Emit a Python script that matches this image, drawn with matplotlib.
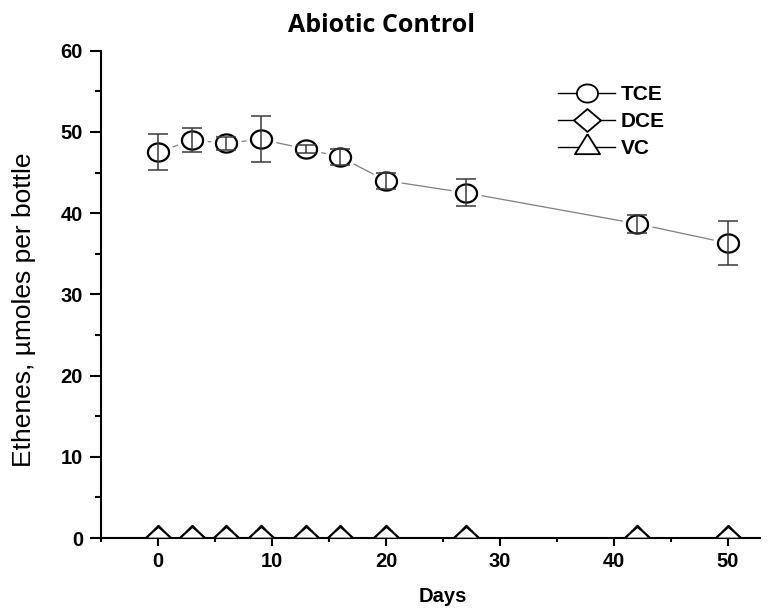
import matplotlib
matplotlib.use('Agg')
import matplotlib.pyplot as plt
import numpy as np
from matplotlib.lines import Line2D
from matplotlib.ticker import MultipleLocator

# data
days = [0, 3, 6, 9, 13, 16, 20, 27, 42, 50]
tce = [47.5, 49.0, 48.6, 49.1, 47.9, 46.9, 44.0, 42.5, 38.7, 36.3]
tce_err = [2.2, 1.5, 0.8, 2.8, 0.5, 1.0, 1.0, 1.65, 1.1, 2.7]
dce = [0, 0, 0, 0, 0, 0, 0, 0, 0, 0]
vc = [0, 0, 0, 0, 0, 0, 0, 0, 0, 0]

plt.rcParams['font.family'] = ['Liberation Sans', 'DejaVu Sans']

# the original is a bit stretched sideways, so the markers are too
th = np.linspace(0, 2 * np.pi, 61)
ellipse = list(zip(np.cos(th), 0.86 * np.sin(th)))
diamond = [(1, 0), (0, 0.85), (-1, 0), (0, -0.85), (1, 0)]
tri_base = [(0, 1.0), (-0.96, 0), (0.96, 0), (0, 1.0)]
tri_leg = [(0, 1.0), (-0.94, -0.5), (0.94, -0.5), (0, 1.0)]

W, H = 781, 612
fig = plt.figure(figsize=(W / 100, H / 100), dpi=100)
ax = fig.add_axes([101 / W, 1 - 538 / H, 659 / W, (538 - 50.7) / H])

# connecting line (gray, with small gaps round the markers)
ax.plot(days, tce, color='#808080', lw=0.9, zorder=2)
ax.plot(days, tce, ls='none', marker=ellipse, ms=21, mfc='white', mec='white', zorder=3)
ax.plot(days, tce, ls='none', marker=ellipse, ms=15.2, mfc='white', mec='black', mew=1.6, zorder=4)
ax.errorbar(days, tce, yerr=tce_err, fmt='none', ecolor='#3a3a3a', elinewidth=1.1,
            capsize=7, capthick=1.1, zorder=5)

# DCE and VC all zero: diamonds clipped by the axis, triangles sitting on it
ax.plot(days, dce, ls='none', marker=diamond, ms=19.4, mfc='white', mec='black', mew=1.3, zorder=3)
ax.plot(days, vc, ls='none', marker=tri_base, ms=18.7, mfc='none', mec='black', mew=1.3, zorder=4)

ax.set_xlim(-5, 52.8)
ax.set_ylim(0, 60)
ax.xaxis.set_major_locator(MultipleLocator(10))
ax.xaxis.set_minor_locator(MultipleLocator(5))
ax.yaxis.set_major_locator(MultipleLocator(10))
ax.yaxis.set_minor_locator(MultipleLocator(5))

for s in ['top', 'right']:
    ax.spines[s].set_visible(False)
for s in ['left', 'bottom']:
    ax.spines[s].set_linewidth(1.5)

ax.tick_params(axis='x', which='major', direction='out', length=6, width=1.5, pad=4, labelsize=14.5)
ax.tick_params(axis='x', which='minor', direction='out', length=3, width=1.5)
ax.tick_params(axis='y', which='major', direction='out', length=8, width=1.5, pad=5, labelsize=14.5)
ax.tick_params(axis='y', which='minor', direction='out', length=4, width=1.5)
for lab in ax.get_xticklabels() + ax.get_yticklabels():
    lab.set_fontweight('bold')

fig.text(381 / W, 1 - 26 / H, 'Abiotic Control', ha='center', va='center',
         fontsize=18, fontweight='bold', family=['Open Sans', 'DejaVu Sans'])
fig.text(443 / W, 1 - 596 / H, 'Days', ha='center', va='center', fontsize=14.5, fontweight='bold')
fig.text(24 / W, 1 - 310 / H, 'Ethenes, µmoles per bottle', ha='center', va='center',
         rotation=90, fontsize=19)

handles = [
    Line2D([], [], color='black', lw=1, marker=ellipse, ms=15.2, mfc='white', mec='black', mew=1.3),
    Line2D([], [], color='black', lw=1, marker=diamond, ms=19.4, mfc='white', mec='black', mew=1.3),
    Line2D([], [], color='black', lw=1, marker=tri_leg, ms=19.2, mfc='white', mec='black', mew=1.3),
]
leg = ax.legend(handles, ['TCE', 'DCE', 'VC'], loc='upper left',
                bbox_to_anchor=(558 / W, 1 - 85 / H), bbox_transform=fig.transFigure,
                frameon=False, borderpad=0, borderaxespad=0, handlelength=2.75,
                handletextpad=0.25, labelspacing=0.38, prop={'weight': 'bold', 'size': 15})

fig.savefig('out.png', dpi=100)
